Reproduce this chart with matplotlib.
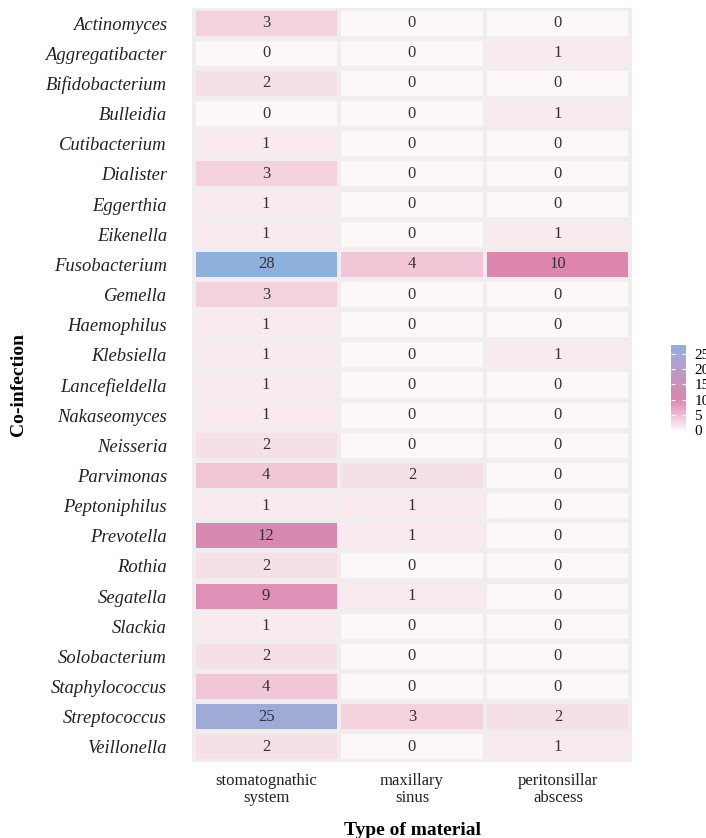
import numpy as np
import matplotlib.pyplot as plt
from matplotlib.colors import LinearSegmentedColormap, Normalize
from matplotlib.patches import Rectangle

plt.rcParams['font.family'] = ['Liberation Serif', 'DejaVu Serif']

genera = ["Actinomyces", "Aggregatibacter", "Bifidobacterium", "Bulleidia",
          "Cutibacterium", "Dialister", "Eggerthia", "Eikenella", "Fusobacterium",
          "Gemella", "Haemophilus", "Klebsiella", "Lancefieldella", "Nakaseomyces",
          "Neisseria", "Parvimonas", "Peptoniphilus", "Prevotella", "Rothia",
          "Segatella", "Slackia", "Solobacterium", "Staphylococcus",
          "Streptococcus", "Veillonella"]
materials = ["stomatognathic\nsystem", "maxillary\nsinus", "peritonsillar\nabscess"]

stomatognathic = [3, 0, 2, 0, 1, 3, 1, 1, 28, 3, 1, 1, 1, 1, 2, 4, 1, 12, 2, 9, 1, 2, 4, 25, 2]
maxillary = [0, 0, 0, 0, 0, 0, 0, 0, 4, 0, 0, 0, 0, 0, 0, 2, 1, 1, 0, 1, 0, 0, 0, 3, 0]
peritonsillar = [0, 1, 0, 1, 0, 0, 0, 1, 10, 0, 0, 1, 0, 0, 0, 0, 0, 0, 0, 0, 0, 0, 0, 2, 1]

counts = np.array([stomatognathic, maxillary, peritonsillar]).T

# white -> pink -> lavender -> blue
cmap = LinearSegmentedColormap.from_list("cnt", [
    (0.00, "#FCF8F8"),
    (0.04, "#F8E8EE"),
    (0.08, "#F5DDE5"),
    (0.11, "#F3D0DC"),
    (0.15, "#F0C5D6"),
    (0.33, "#DE8DB4"),
    (0.37, "#DC84AD"),
    (0.45, "#D38BB3"),
    (0.70, "#B89BCA"),
    (0.89, "#A0AAD6"),
    (1.00, "#8DB0DD"),
])
norm = Normalize(vmin=0, vmax=28)

fig = plt.figure(figsize=(7.06, 8.38), dpi=100)
ax = fig.add_axes([192 / 706, 1 - 762 / 838, 440 / 706, 754 / 838])
ax.set_facecolor("#F1EDEF")

n_rows, n_cols = counts.shape
w, h = 0.968, 0.83
for i in range(n_rows):
    for j in range(n_cols):
        v = counts[i, j]
        ax.add_patch(Rectangle((j - w / 2, i - h / 2), w, h,
                               facecolor=cmap(norm(v)), edgecolor="none"))
        ax.text(j, i, str(v), ha="center", va="center",
                fontsize=12, color="#333333")

ax.set_xlim(-0.508, n_cols - 0.492)
ax.set_ylim(n_rows - 0.5, -0.5)
ax.set_xticks(range(n_cols))
ax.set_xticklabels(materials, fontsize=12, color="#222222", linespacing=1.05)
ax.set_yticks(range(n_rows))
ax.set_yticklabels(genera, fontsize=13.4, style="italic", color="#222222")
ax.tick_params(axis="y", length=0, pad=18)
ax.tick_params(axis="x", length=0, pad=8)
for s in ax.spines.values():
    s.set_visible(False)

ax.set_xlabel("Type of material", fontsize=14, fontweight="bold", labelpad=12)
fig.text(19 / 706, 1 - 385 / 838, "Co-infection", rotation=90, ha="center",
         va="center", fontsize=14, fontweight="bold")

cax = fig.add_axes([671 / 706, 1 - 430 / 838, 15 / 706, 85 / 838])
sm = plt.cm.ScalarMappable(norm=norm, cmap=cmap)
cb = fig.colorbar(sm, cax=cax, ticks=[0, 5, 10, 15, 20, 25])
cb.outline.set_visible(False)
cax.tick_params(axis="y", direction="in", length=3, width=0.8, color="white",
                left=True, right=True, labelsize=11, pad=6)

fig.savefig("out.png", dpi=100)
